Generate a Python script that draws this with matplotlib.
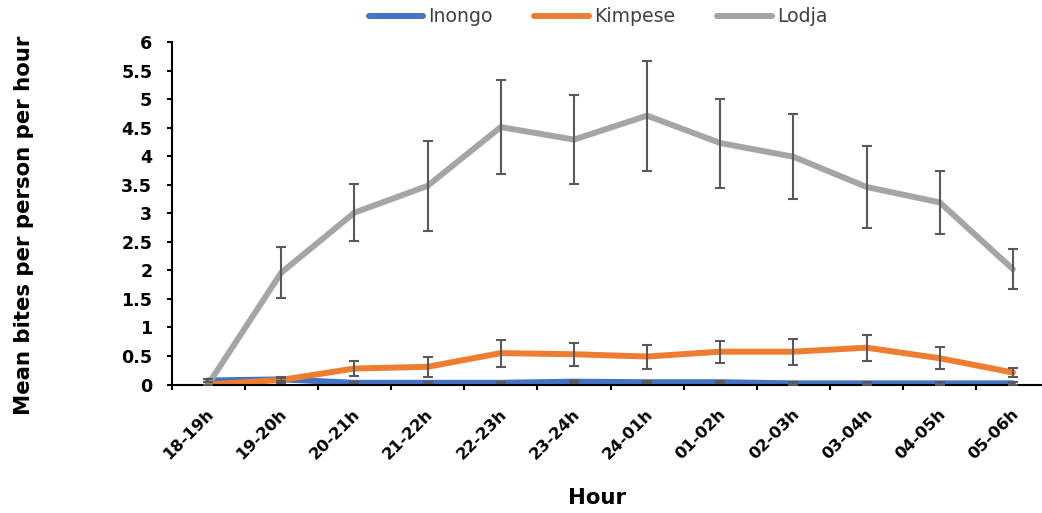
import matplotlib
matplotlib.use("Agg")
import matplotlib.pyplot as plt
import matplotlib.transforms as mtransforms
import numpy as np

hours = ["18-19h", "19-20h", "20-21h", "21-22h", "22-23h", "23-24h",
         "24-01h", "01-02h", "02-03h", "03-04h", "04-05h", "05-06h"]

inongo = [0.07, 0.09, 0.03, 0.03, 0.03, 0.05, 0.04, 0.04, 0.02, 0.02, 0.02, 0.02]
inongo_err = [0.02, 0.03, 0.01, 0.01, 0.01, 0.02, 0.02, 0.02, 0.03, 0.03, 0.03, 0.03]

kimpese = [0.0, 0.08, 0.28, 0.31, 0.55, 0.53, 0.49, 0.575, 0.575, 0.645, 0.46, 0.21]
kimpese_err = [0.0, 0.05, 0.125, 0.17, 0.235, 0.2, 0.21, 0.19, 0.225, 0.225, 0.19, 0.085]

lodja = [0.0, 1.96, 3.01, 3.48, 4.51, 4.29, 4.71, 4.23, 3.99, 3.46, 3.19, 2.02]
lodja_err = [0.0, 0.445, 0.50, 0.785, 0.83, 0.775, 0.965, 0.78, 0.74, 0.71, 0.55, 0.345]

series = [("Inongo", inongo, inongo_err, "#4472C4"),
          ("Kimpese", kimpese, kimpese_err, "#ED7D31"),
          ("Lodja", lodja, lodja_err, "#A5A5A5")]

plt.rcParams['font.family'] = ['DejaVu Sans']

fig = plt.figure(figsize=(10.42, 5.13), dpi=100)
ax = fig.add_axes([171.5/1042, 128.5/513, 878/1042, 342.5/513])

x = np.arange(len(hours))
for name, vals, errs, col in series:
    ax.plot(x, vals, color=col, lw=4.3, label=name, solid_capstyle='round', zorder=2)
for name, vals, errs, col in series:
    ax.errorbar(x, vals, yerr=errs, fmt='none', ecolor="#595959", elinewidth=1.5,
                capsize=3.8, capthick=1.5, zorder=3)

ax.set_xlim(-0.5, 11.5)
ax.set_ylim(0, 6)
ax.set_yticks(np.arange(0, 6.01, 0.5))
ax.set_yticklabels(["0", "0.5", "1", "1.5", "2", "2.5", "3", "3.5", "4", "4.5", "5", "5.5", "6"])
ax.set_xticks(x)
ax.set_xticklabels(hours, rotation=45, ha='right', va='top', rotation_mode='anchor')
ax.set_xticks(np.arange(-0.5, 11.6, 1), minor=True)
ax.tick_params(axis='x', which='major', length=0, pad=16)
ax.tick_params(axis='x', which='minor', length=3.8, width=1.5, direction='out')
ax.tick_params(axis='y', length=3.8, width=1.5, direction='out', pad=10)
shift = mtransforms.ScaledTranslation(-2/100, 0, fig.dpi_scale_trans)
for lab in ax.get_xticklabels():
    lab.set_transform(lab.get_transform() + shift)
    lab.set_fontsize(11.8)
for lab in ax.get_yticklabels():
    lab.set_fontsize(12.6)
for lab in ax.get_xticklabels() + ax.get_yticklabels():
    lab.set_fontweight('bold')
    lab.set_color('black')

for s in ['top', 'right']:
    ax.spines[s].set_visible(False)
for s in ['left', 'bottom']:
    ax.spines[s].set_linewidth(1.5)
    ax.spines[s].set_color('black')

ax.set_ylabel("Mean bites per person per hour", fontsize=15.3, fontweight='bold')
ax.set_xlabel("Hour", fontsize=15.3, fontweight='bold')
ax.xaxis.set_label_coords((597-171.5)/878, -(488-384.5)/342.5)
ax.yaxis.set_label_coords(-(171.5-34)/878, 0.466)

leg = fig.legend(loc='center', bbox_to_anchor=(598/1042, 1-17/513), ncol=3, frameon=False,
                 fontsize=13.6, handlelength=2.9, columnspacing=2.2, handletextpad=0.27)
for t in leg.get_texts():
    t.set_color('#404040')

fig.savefig("out.png", dpi=100)
